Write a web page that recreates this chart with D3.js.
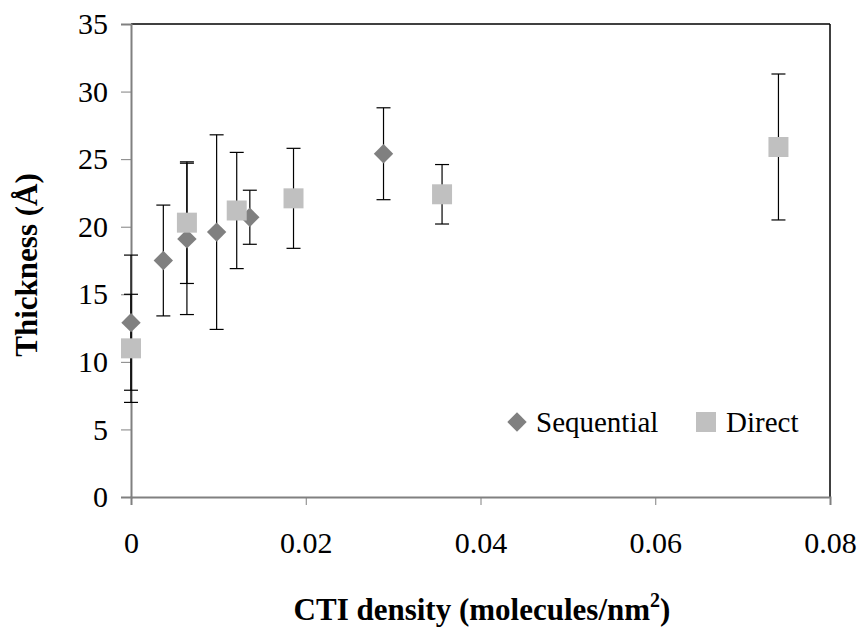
<!DOCTYPE html>
<html>
<head>
<meta charset="utf-8">
<script src="https://cdn.jsdelivr.net/npm/d3@7"></script>
<style>
  html, body { margin: 0; padding: 0; background: #fff; }
  svg { display: block; font-family: "Liberation Serif", "Times New Roman", serif; }
</style>
</head>
<body>
<svg id="chart" width="863" height="629"></svg>
<script>
// CTI density (molecules/nm^2) vs layer thickness (Å)
const seqDensity   = [0, 0.0037, 0.0064, 0.0098, 0.0136, 0.0289];
const seqThickness = [12.9, 17.5, 19.1, 19.6, 20.7, 25.4];
const seqError     = [5.0, 4.1, 5.6, 7.2, 2.0, 3.4];

const dirDensity   = [0, 0.0064, 0.0121, 0.0186, 0.0356, 0.0741];
const dirThickness = [11.0, 20.3, 21.2, 22.1, 22.4, 25.9];
const dirError     = [4.0, 4.5, 4.3, 3.7, 2.2, 5.4];

const xTicks = [0, 0.02, 0.04, 0.06, 0.08];
const yTicks = [0, 5, 10, 15, 20, 25, 30, 35];
const seriesNames = ["Sequential", "Direct"];

const W = 863, H = 629;
const margin = { left: 131, top: 24, right: 33, bottom: 132 };

const svg = d3.select("#chart");

const x = d3.scaleLinear().domain([0, 0.08]).range([margin.left, W - margin.right]);
const y = d3.scaleLinear().domain([0, 35]).range([H - margin.bottom, margin.top]);

const tickFont = 30;
const serif = "Liberation Serif, Times New Roman, serif";

// frame: black top and right edges
svg.append("line")
  .attr("x1", x(0)).attr("x2", x(0.08)).attr("y1", y(35)).attr("y2", y(35))
  .attr("stroke", "#000").attr("stroke-width", 1.5);
svg.append("line")
  .attr("x1", x(0.08)).attr("x2", x(0.08)).attr("y1", y(35)).attr("y2", y(0))
  .attr("stroke", "#000").attr("stroke-width", 1.5);

// y axis
const yAxis = svg.append("g")
  .attr("transform", `translate(${x(0)},0)`)
  .call(d3.axisLeft(y).tickValues(yTicks).tickSize(10).tickPadding(13).tickFormat(d3.format("d")));
yAxis.select(".domain").attr("stroke", "#808080").attr("stroke-width", 2);
yAxis.selectAll(".tick line").attr("stroke", "#808080").attr("stroke-width", 1);
yAxis.selectAll(".tick text")
  .attr("font-size", tickFont).attr("fill", "#000").attr("font-family", serif);

// x axis
const xAxis = svg.append("g")
  .attr("transform", `translate(0,${y(0)})`)
  .call(d3.axisBottom(x).tickValues(xTicks).tickSize(8).tickPadding(27)
    .tickFormat(d => d === 0 ? "0" : d3.format(".2f")(d)));
xAxis.select(".domain").attr("stroke", "#808080").attr("stroke-width", 2);
xAxis.selectAll(".tick line").attr("stroke", "#808080").attr("stroke-width", 1);
xAxis.selectAll(".tick text")
  .attr("font-size", tickFont).attr("fill", "#000").attr("font-family", serif);

// error bars
function errorBars(xs, ys, es, cls) {
  const g = svg.append("g").attr("class", cls);
  const capHalf = 7;
  xs.forEach((xv, i) => {
    const cx = x(xv), lo = y(ys[i] - es[i]), hi = y(ys[i] + es[i]);
    g.append("line").attr("x1", cx).attr("x2", cx).attr("y1", lo).attr("y2", hi)
      .attr("stroke", "#000").attr("stroke-width", 1.2);
    [lo, hi].forEach(yy => {
      g.append("line").attr("x1", cx - capHalf).attr("x2", cx + capHalf)
        .attr("y1", yy).attr("y2", yy).attr("stroke", "#000").attr("stroke-width", 1.2);
    });
  });
}
errorBars(seqDensity, seqThickness, seqError, "err-seq");
errorBars(dirDensity, dirThickness, dirError, "err-dir");

const diamond = d3.symbol().type(d3.symbolDiamond2).size(240);
const square = d3.symbol().type(d3.symbolSquare).size(400);

// Sequential (diamonds)
svg.append("g").selectAll("path")
  .data(seqDensity.map((d, i) => [d, seqThickness[i]]))
  .join("path")
  .attr("d", diamond)
  .attr("transform", d => `translate(${x(d[0])},${y(d[1])})`)
  .attr("fill", "#808080");

// Direct (squares)
svg.append("g").selectAll("path")
  .data(dirDensity.map((d, i) => [d, dirThickness[i]]))
  .join("path")
  .attr("d", square)
  .attr("transform", d => `translate(${x(d[0])},${y(d[1])})`)
  .attr("fill", "#c0c0c0");

// legend
const legend = svg.append("g").attr("font-size", 29);
legend.append("path").attr("d", diamond).attr("transform", "translate(517,422)").attr("fill", "#808080");
legend.append("text").attr("x", 536).attr("y", 432).text(seriesNames[0]);
legend.append("path").attr("d", square).attr("transform", "translate(706,422)").attr("fill", "#c0c0c0");
legend.append("text").attr("x", 726).attr("y", 432).text(seriesNames[1]);

// axis titles
const xTitle = svg.append("text")
  .attr("x", 482).attr("y", 620)
  .attr("text-anchor", "middle").attr("font-weight", "bold").attr("font-size", 31);
xTitle.append("tspan").text("CTI density (molecules/nm");
xTitle.append("tspan").attr("dy", -13).attr("font-size", 20).text("2");
xTitle.append("tspan").attr("dy", 13).text(")");

svg.append("text")
  .attr("transform", `translate(37,265) rotate(-90)`)
  .attr("text-anchor", "middle").attr("font-weight", "bold").attr("font-size", 31)
  .text("Thickness (Å)");
</script>
</body>
</html>
